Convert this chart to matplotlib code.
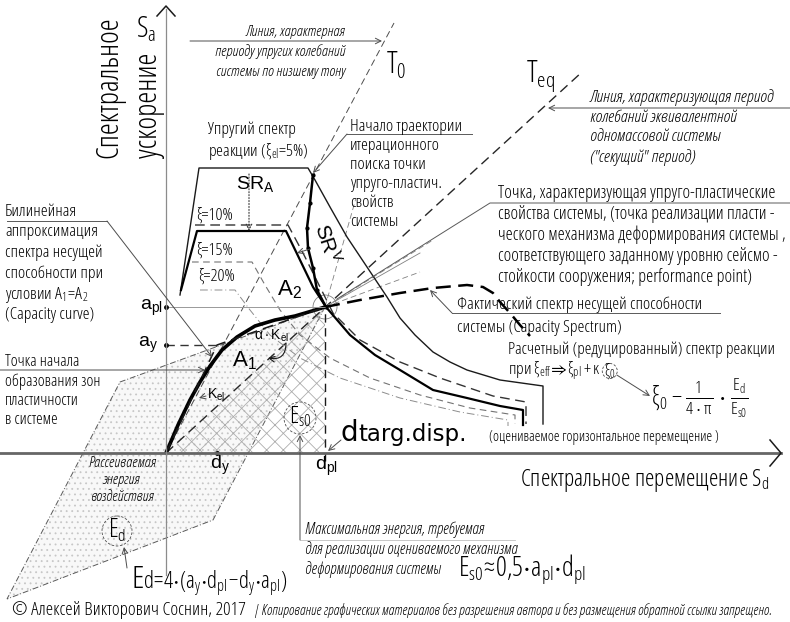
import matplotlib
matplotlib.use("Agg")
import matplotlib.pyplot as plt
import matplotlib.transforms as mtransforms
from matplotlib.patches import Polygon, Circle

# narrow light font, close to the drafting font of the original
plt.rcParams['font.family'] = ['Open Sans', 'DejaVu Sans']
plt.rcParams['font.stretch'] = 'condensed'
plt.rcParams['font.weight'] = 'light'
plt.rcParams['mathtext.fontset'] = 'custom'
plt.rcParams['mathtext.rm'] = 'Open Sans:light'
plt.rcParams['hatch.linewidth'] = 0.6

# ---- data (Sd, Sa in drawing units, origin at the axes crossing) ----
d_pl, a_pl = 159, 146      # performance point
d_y, a_y = 51, 108         # yield point of the bilinear curve

# elastic response spectrum, xi = 5 %
elastic_sd = [14, 33, 142, 149, 164, 181, 201, 221, 234, 249, 267, 284, 301, 334, 377, 377]
elastic_sa = [158, 285, 285, 273, 246, 216, 186, 156, 135, 118, 101, 91, 83, 73, 67, 29]

# reduced (design) spectrum, solid
reduced_sd = [15, 31, 120, 134, 147, 160, 184, 209, 234, 267, 301, 334, 357, 357]
reduced_sa = [163, 222, 222, 193, 166, 146, 118, 98, 83, 63, 55, 47, 43, 28]

# xi = 10 %
xi10_sd = [29, 122, 137, 152, 167, 194, 234, 274, 327, 360, 360]
xi10_sa = [228, 228, 200, 170, 140, 113, 91, 75, 57, 51, 29]

# xi = 15 %
xi15_sd = [26, 86, 99, 114, 134, 164, 204, 254, 304, 349, 349]
xi15_sa = [191, 191, 168, 143, 118, 95, 75, 58, 45, 38, 29]

# xi = 20 %
xi20_sd = [34, 69, 84, 104, 134, 174, 234, 294, 342, 342]
xi20_sa = [163, 163, 143, 118, 95, 75, 55, 41, 33, 27]

# capacity curve up to the performance point
capacity_sd = [0, 12, 24, 34, 44, 56, 71, 89, 109, 129, 146, 159]
capacity_sa = [0, 28, 53, 71, 87, 103, 116, 127, 133, 137, 142, 146]

# capacity spectrum beyond the performance point
cap_spec_sd = [159, 194, 234, 267, 301, 317, 327, 334, 344, 354, 364]
cap_spec_sa = [146, 153, 160, 165, 168, 166, 160, 151, 140, 128, 117]

# iteration path SR_V
srv_sd = [147, 144, 141, 142, 147, 151, 160]
srv_sa = [278, 250, 225, 205, 185, 163, 146]

# period lines (end points)
t0_end = (228, 430)
teq_end = (416, 381)

# hysteresis loop for E_d
loop_sd = [159, 47, -159, -46]
loop_sa = [146, -67, -146, 71]

fig = plt.figure(figsize=(7.9, 6.22), dpi=100)
ax = fig.add_axes([0, 0, 1, 1])
ax.set_xlim(-166, 624)
ax.set_ylim(-169, 453)
ax.axis('off')

# pixel coordinates for the notes
px = mtransforms.Affine2D().translate(-166, 0).scale(1, -1).translate(0, 453) + ax.transData

# energy loop and hatched triangle
ax.add_patch(Polygon(list(zip(loop_sd, loop_sa)), closed=True, facecolor='#f8f8f8',
                     edgecolor='0.78', hatch='...', lw=0, zorder=0))
ax.add_patch(Polygon(list(zip(loop_sd, loop_sa)), closed=True, facecolor='none',
                     edgecolor='0.35', lw=0.7, ls=(0, (6, 2, 1, 2)), zorder=1))
ax.add_patch(Polygon([(0, 0), (d_pl, a_pl), (d_pl, 0)], closed=True, facecolor='none',
                     edgecolor='0.68', hatch='xx', lw=0, zorder=1))

# axes
ax.plot([-166, 615], [0, 0], color='0.4', lw=2, zorder=3)
ax.plot([604, 615, 604], [13, 0, -13], color='0.1', lw=1.1, zorder=3)
ax.plot([0, 0], [-122, 444], color='0.55', lw=0.9, zorder=3)
ax.plot([-9, 0, 9], [437, 447, 437], color='0.1', lw=1.1, zorder=3)

# period lines
ax.plot([0, t0_end[0]], [0, t0_end[1]], color='0.3', lw=0.7, ls=(0, (7, 4)))
ax.plot([0, teq_end[0]], [0, teq_end[1]], color='0.15', lw=1.0, ls=(0, (7, 4)))

# fan lines from the performance point
for ex, ey, ls in [(267, 213, (0, (7, 4))), (254, 200, '-'), (254, 181, (0, (7, 4))),
                   (190, 255, (0, (7, 4)))]:
    ax.plot([d_pl, ex], [a_pl, ey], color='0.5', lw=0.6, ls=ls)

# spectra
ax.plot(elastic_sd, elastic_sa, color='0.1', lw=1.0)
ax.plot(xi10_sd, xi10_sa, color='0.2', lw=1.0, ls=(0, (7, 4)))
ax.plot(reduced_sd, reduced_sa, color='0', lw=1.6)
ax.plot(xi15_sd, xi15_sa, color='0.45', lw=0.8, ls=(0, (6, 4)))
ax.plot(xi20_sd, xi20_sa, color='0.55', lw=0.7, ls=(0, (8, 3, 1, 3)))

# capacity
ax.plot(capacity_sd, capacity_sa, color='0', lw=2.6, solid_capstyle='round')
ax.plot(cap_spec_sd, cap_spec_sa, color='0', lw=1.8, ls=(0, (6, 3)))
ax.plot([0, d_y, d_pl], [0, a_y, a_pl], color='0.1', lw=1.1, ls=(0, (7, 4)))

# iteration path
ax.plot(srv_sd, srv_sa, color='0', lw=1.8, marker='o', ms=2)

# reference lines
ax.plot([0, d_pl], [a_pl, a_pl], color='0.6', lw=0.7)
ax.plot([d_pl, d_pl], [-8, a_pl], color='0.1', lw=1.0, ls=(0, (6, 4)))
ax.plot([0, d_y], [a_y, a_y], color='0.2', lw=1.0, ls=(0, (6, 4)))
ax.plot([0, 0, d_y], [a_pl, a_y, 0], 'o', color='0', ms=2.5)
ax.add_patch(Circle((d_pl, a_pl), 12, fill=False, ec='0.5', lw=0.6))

arrow = dict(arrowstyle='->', lw=0.7, color='0.3', shrinkA=0, shrinkB=0)


def lead(pts, head=True):
    xs = [p[0] for p in pts]
    ys = [p[1] for p in pts]
    ax.plot(xs[:-1] if head else xs, ys[:-1] if head else ys, color='0.35', lw=0.7, transform=px)
    if head:
        ax.annotate('', xy=pts[-1], xytext=pts[-2], xycoords=px, textcoords=px, arrowprops=arrow)


REG = dict(family=['Liberation Sans', 'DejaVu Sans'], fontstretch='normal', fontweight='normal')
DJV = dict(family=['DejaVu Sans'], fontstretch='normal', fontweight='normal')


def txt(x, y, s, size=12, **kw):
    kw.setdefault('ha', 'left')
    kw.setdefault('va', 'center')
    return ax.text(x, y, s, fontsize=size, transform=px, **kw)


# axis titles
txt(109, 87, 'Спектральное', 22, rotation=90, ha='center')
txt(149, 105, 'ускорение', 22, rotation=90, ha='center')
txt(136, 29, r'$\mathregular{S_a}$', 21)
txt(520, 480, r'Спектральное перемещение $\mathregular{S_d}$', 17)

# T0 note
txt(345, 32, 'Линия, характерная', 11, ha='right', style='italic')
txt(345, 52, 'периоду упругих колебаний', 11, ha='right', style='italic')
txt(345, 72, 'системы по низшему тону', 11, ha='right', style='italic')
lead([(190, 41), (382, 41)])
txt(386, 66, r'$\mathregular{T_0}$', 22)
txt(526, 76, r'$\mathregular{T_{eq}}$', 22)

# Teq note
for i, s in enumerate(['Линия, характеризующая период', 'колебаний эквивалентной',
                       'одномассовой системы', '("секущий" период)']):
    txt(590, 98 + 19.7 * i, s, 12.5, style='italic')
lead([(790, 108), (548, 108)])

# iteration note
for i, s in enumerate(['Начало траектории', 'итерационного', 'поиска точки',
                       'упруго-пластич.', 'свойств', 'системы']):
    txt(350, 127 + 19 * i, s, 12.5)
lead([(472, 134), (347, 134), (313, 173)])

# elastic spectrum note
txt(208, 130, 'Упругий спектр', 12.5)
txt(208, 152, r'реакции ($\mathregular{\xi_{el}}$=5%)', 12.5)
txt(236, 184, r'$\mathregular{SR_A}$', 14, **REG)
ax.annotate('', xy=(249, 231), xytext=(249, 174), xycoords=px, textcoords=px,
            arrowprops=dict(arrowstyle='->', lw=0.8, color='0.2', ls=':', shrinkA=0, shrinkB=0))
txt(196, 216, 'ξ=10%', 12.5)
txt(196, 251, 'ξ=15%', 12.5)
txt(198, 277, 'ξ=20%', 12.5)
txt(327, 244, r'$\mathregular{SR^V}$', 15, rotation=-72, ha='center', **REG)
lead([(310, 249), (297, 253)])
txt(289, 290, r'$\mathregular{A_2}$', 16, ha='center', **REG)
txt(244, 361, r'$\mathregular{A_1}$', 16, ha='center', **REG)
txt(216, 395, r'$\mathregular{K_{el}}$', 10, ha='center', **REG)
lead([(206, 396), (199, 398)])
txt(272, 336, r'$\mathregular{\alpha\cdot K_{el}}$', 10, ha='center', **REG)
ax.annotate('', xy=(268, 358), xytext=(286, 343), xycoords=px, textcoords=px,
            arrowprops=dict(arrowstyle='->', lw=0.8, color='0.1',
                            connectionstyle='arc3,rad=-0.6', shrinkA=0, shrinkB=0))

# performance point note
for i, s in enumerate(['Точка, характеризующая упруго-пластические',
                       'свойства системы, (точка реализации пласти -',
                       'ческого механизма деформирования системы ,',
                       'соответствующего заданному уровню сейсмо -',
                       'стойкости сооружения; performance point)']):
    txt(498, 193 + 21 * i, s, 13)
lead([(790, 203), (490, 203), (337, 299)], head=False)

# capacity spectrum note
txt(457, 305, 'Фактический спектр несущей способности', 12.5)
txt(457, 328, 'системы (Capacity Spectrum)', 12.5)
lead([(720, 313), (452, 313), (430, 290)])

# reduced spectrum note
txt(508, 350, 'Расчетный (редуцированный) спектр реакции', 12.3)
head = txt(508, 371, r'при $\mathregular{\xi_{eff}\!\Rightarrow\!\xi_{pl}\,{+}\,\kappa}$', 12.5)
fig.canvas.draw()
bb = head.get_window_extent()
x_end = px.inverted().transform((bb.x1, bb.y0))[0]
ax.add_patch(Circle((x_end + 9, 371), 7.5, fill=False, ec='0.3', lw=0.6, ls=(0, (3, 2)),
                    transform=px))
txt(x_end + 9, 371, r'$\mathregular{\xi_0}$', 12, ha='center')
lead([(x_end + 16, 375), (650, 396)])
txt(651, 398, r'$\mathregular{\xi_0 - \frac{1}{4\cdot\pi}\cdot\frac{E_d}{E_{s0}}}$', 18)

# axis value labels
txt(151, 308, r'$\mathregular{a_{pl}}$', 14, ha='center', **REG)
txt(148, 345, r'$\mathregular{a_y}$', 14, ha='center', **REG)
txt(220, 465, r'$\mathregular{d_y}$', 14, ha='center', **REG)
txt(326, 466, r'$\mathregular{d_{pl}}$', 14, ha='center', **REG)

# target displacement
txt(341, 441, 'd', 20, va='baseline', **DJV)
txt(358, 441, 'targ.disp.', 16.5, va='baseline', **DJV)
txt(489, 441, '(оцениваемое горизонтальное перемещение )', 10.5, va='baseline')
lead([(341, 440), (328, 451)])

# bilinear note
for i, s in enumerate(['Билинейная', 'аппроксимация', 'спектра несущей', 'способности при']):
    txt(5, 212 + 20.5 * i, s, 12.5)
txt(5, 295, r'условии $\mathregular{A_1\!=\!A_2}$', 12.5)
txt(5, 315, '(Capacity curve)', 12.5)
lead([(7, 221), (107, 221), (212, 357)])

# plastic zones note
for i, s in enumerate(['Точка начала', 'образования зон', 'пластичности', 'в системе']):
    txt(5, 362 + 19.5 * i, s, 12)
lead([(0, 370), (205, 370)])

# dissipated energy
for i, s in enumerate(['Рассеиваемая', 'энергия', 'воздействия']):
    txt(122, 463 + 17 * i, s, 11, ha='center', style='italic')
ax.add_patch(Circle((117, 531), 15, fill=False, ec='0.3', lw=0.6, ls=(0, (3, 2)), transform=px))
txt(117, 530, r'$\mathregular{E_d}$', 18, ha='center')
lead([(127, 568), (124, 547)])
txt(131, 588, 'E', 23, va='baseline')
txt(143, 588, r'$\mathregular{d\!=\!4{\cdot}(a_y{\cdot}d_{pl}\!-\!d_y{\cdot}a_{pl})}$', 16.5,
    va='baseline')

# strain energy
ax.add_patch(Circle((300, 418), 16, fill=False, ec='0.3', lw=0.6, ls=(0, (3, 2)), transform=px))
txt(300, 417, r'$\mathregular{E_{s0}}$', 17, ha='center')
lead([(300, 540), (300, 435)])
ax.plot([300, 515], [540, 540], color='0.75', lw=0.6, transform=px)
txt(305, 530, 'Максимальная энергия, требуемая', 11.5, style='italic')
txt(305, 550, 'для реализации оцениваемого механизма', 11.5, style='italic')
txt(305, 570, 'деформирования системы', 11.5, style='italic')
txt(458, 576, r'$\mathregular{E_{s0}\!\approx\!0{,}5{\cdot}a_{pl}{\cdot}d_{pl}}$', 19.5, va='baseline')

# footer
txt(12, 610, '© Алексей Викторович Соснин, 2017', 13.5)
txt(254, 611, '| Копирование графических материалов без разрешения автора и без размещения '
              'обратной ссылки запрещено.', 10.3, style='italic')

fig.savefig('out.png', dpi=100)
